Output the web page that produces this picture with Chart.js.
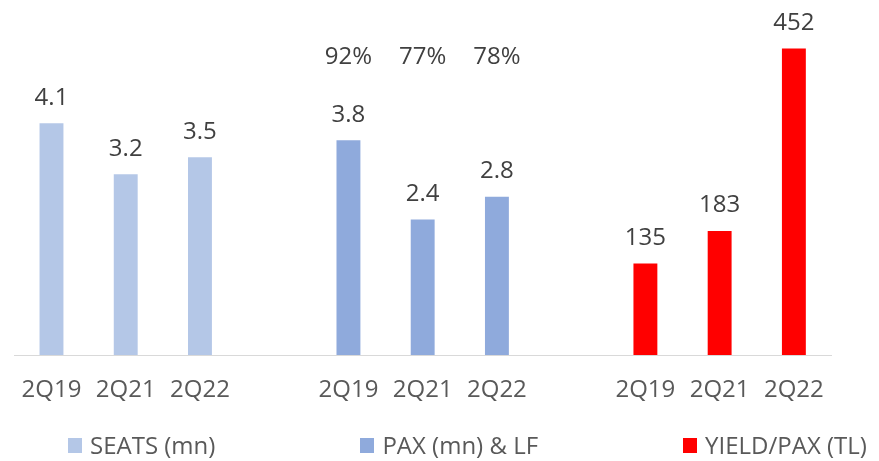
<!DOCTYPE html>
<html lang="en">
<head>
  <meta charset="UTF-8" />
  <title>Seats, Pax &amp; Yield</title>
  <script src="https://cdn.jsdelivr.net/npm/chart.js"></script>
  <style>
    body {
      margin: 0;
      padding: 0;
      background: #fff;
      font-family: "Open Sans", sans-serif;
    }

    #wrap {
      position: relative;
      width: 879px;
      height: 461px;
    }

    #legend {
      position: absolute;
      left: 68px;
      top: 430px;
      display: flex;
      gap: 145px;
      font-size: 24px;
      line-height: 30px;
      color: #595959;
      white-space: nowrap;
    }

    .item {
      display: flex;
      align-items: center;
    }

    .swatch {
      width: 14px;
      height: 15px;
      margin-right: 8px;
    }
  </style>
</head>
<body>
  <div id="wrap">
    <canvas id="opsChart" width="879" height="461"></canvas>
    <div id="legend"></div>
  </div>

  <script>
    const periods = ['2Q19', '2Q21', '2Q22'];
    const seats = [4.1, 3.2, 3.5];
    const pax = [3.8, 2.4, 2.8];
    const loadFactor = [92, 77, 78];
    const yieldPerPax = [135, 183, 452];

    const seriesNames = ['SEATS (mn)', 'PAX (mn) & LF', 'YIELD/PAX (TL)'];
    const seriesColors = ['#b4c7e7', '#8faadc', '#ff0000'];

    // three groups of bars with an empty slot between groups
    const labels = [...periods, '', ...periods, '', ...periods];

    function place(values, group) {
      const out = [];
      for (let g = 0; g < 3; g++) {
        if (g === group) out.push(...values);
        else out.push(null, null, null);
        if (g < 2) out.push(null);
      }
      return out;
    }

    const valueLabels = {
      id: 'valueLabels',
      afterDatasetsDraw(chart) {
        const ctx = chart.ctx;
        ctx.save();
        ctx.font = '24px "Open Sans"';
        ctx.fillStyle = '#404040';
        ctx.textAlign = 'center';
        ctx.textBaseline = 'alphabetic';

        chart.data.datasets.forEach((ds, i) => {
          const meta = chart.getDatasetMeta(i);
          let k = 0;
          meta.data.forEach((bar, j) => {
            const v = ds.data[j];
            if (v == null) return;
            ctx.fillText(v.toFixed(ds.decimals), bar.x, bar.y - 18.5);
            // load factor shown above the pax bars
            if (ds.showLF) {
              ctx.fillText(loadFactor[k] + '%', bar.x, chart.chartArea.top + 47.5);
            }
            k++;
          });
        });
        ctx.restore();
      }
    };

    const ctx = document.getElementById('opsChart').getContext('2d');
    new Chart(ctx, {
      type: 'bar',
      data: {
        labels,
        datasets: [
          { label: seriesNames[0], data: place(seats, 0), backgroundColor: seriesColors[0], yAxisID: 'y', decimals: 1 },
          { label: seriesNames[1], data: place(pax, 1), backgroundColor: seriesColors[1], yAxisID: 'y', decimals: 1, showLF: true },
          { label: seriesNames[2], data: place(yieldPerPax, 2), backgroundColor: seriesColors[2], yAxisID: 'y2', decimals: 0 }
        ]
      },
      options: {
        responsive: false,
        animation: false,
        layout: { padding: { left: 12.5, right: 48, top: 16, bottom: 0 } },
        datasets: {
          bar: { grouped: false, categoryPercentage: 1, barPercentage: 0.322 }
        },
        plugins: {
          legend: { display: false },
          tooltip: { enabled: false }
        },
        scales: {
          x: {
            grid: { display: false, drawTicks: false },
            border: { display: true, color: '#d9d9d9', width: 1 },
            ticks: {
              color: '#595959',
              font: { family: 'Open Sans', size: 24 },
              padding: 21,
              maxRotation: 0,
              autoSkip: false
            },
            afterFit: scale => { scale.height = 106; }
          },
          y: { display: false, min: 0, max: 6 },
          y2: { display: false, min: 0, max: 500 }
        }
      },
      plugins: [valueLabels]
    });

    // legend spaced like the original slide
    const legend = document.getElementById('legend');
    seriesNames.forEach((name, i) => {
      const item = document.createElement('div');
      item.className = 'item';
      item.innerHTML = '<span class="swatch" style="background:' + seriesColors[i] + '"></span>' + name.replace('&', '&amp;');
      legend.appendChild(item);
    });
  </script>
</body>
</html>
